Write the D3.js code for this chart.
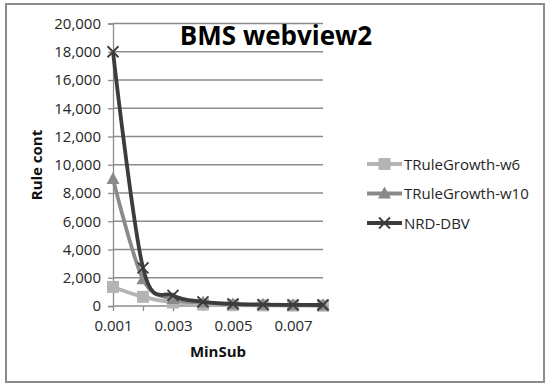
<!DOCTYPE html>
<html>
<head>
<meta charset="utf-8">
<script src="https://cdn.jsdelivr.net/npm/d3@7"></script>
<style>
  body { margin: 0; background: #fff; }
  text { font-family: "Open Sans", "DejaVu Sans", sans-serif; }
</style>
</head>
<body>
<svg id="chart" width="550" height="386"></svg>
<script>
// data
const categories = ['0.001', '0.002', '0.003', '0.004', '0.005', '0.006', '0.007', '0.008'];
const tickLabels = ['0.001', '0.003', '0.005', '0.007'];
const yTicks = [0, 2000, 4000, 6000, 8000, 10000, 12000, 14000, 16000, 18000, 20000];
const seriesNames = ['TRuleGrowth-w6', 'TRuleGrowth-w10', 'NRD-DBV'];
const w6 = [1350, 650, 250, 100, 60, 40, 30, 20];
const w10 = [9000, 1900, 500, 250, 120, 80, 60, 50];
const nrd = [18000, 2700, 750, 300, 150, 100, 80, 70];

const series = [
  { name: seriesNames[0], values: w6, color: '#b4b4b4', marker: 'square' },
  { name: seriesNames[1], values: w10, color: '#8a8a8a', marker: 'triangle' },
  { name: seriesNames[2], values: nrd, color: '#3c3c3c', marker: 'cross' }
];

const svg = d3.select('#chart');

// outer frame
svg.append('rect')
  .attr('x', 6).attr('y', 4).attr('width', 538).attr('height', 378)
  .attr('fill', '#fff').attr('stroke', '#8c8c8c').attr('stroke-width', 2);

const x = d3.scalePoint().domain(categories).range([113, 323]);
const y = d3.scaleLinear().domain([0, 20000]).range([306, 23.5]);

// gridlines
svg.append('g')
  .selectAll('line')
  .data(yTicks.filter(d => d > 0))
  .enter().append('line')
  .attr('x1', 113).attr('x2', 323)
  .attr('y1', d => y(d)).attr('y2', d => y(d))
  .attr('stroke', '#8c8c8c').attr('stroke-width', 1.3);

// y axis
const yAxis = svg.append('g')
  .attr('transform', 'translate(113,0)')
  .call(d3.axisLeft(y).tickValues(yTicks).tickSize(5).tickPadding(7).tickFormat(d3.format(',')));
yAxis.select('.domain').attr('stroke', '#8c8c8c').attr('stroke-width', 1.3);
yAxis.selectAll('.tick line').attr('stroke', '#8c8c8c').attr('stroke-width', 1.3);
yAxis.selectAll('.tick text').attr('font-size', 15).attr('fill', '#262626')
  .style('font-family', '"Open Sans", sans-serif');

// x axis
const xAxis = svg.append('g')
  .attr('transform', 'translate(0,306)')
  .call(d3.axisBottom(x).tickSize(5).tickPadding(9).tickFormat(d => tickLabels.includes(d) ? d : ''));
xAxis.select('.domain').attr('d', 'M113,0H323').attr('stroke', '#8c8c8c').attr('stroke-width', 1.3);
xAxis.selectAll('.tick line').attr('stroke', '#8c8c8c').attr('stroke-width', 1.3);
xAxis.selectAll('.tick text').attr('font-size', 15).attr('fill', '#262626')
  .style('font-family', '"Open Sans", sans-serif');

// axis titles
svg.append('text')
  .attr('x', 218).attr('y', 357)
  .attr('text-anchor', 'middle')
  .attr('font-size', 15).attr('font-weight', 'bold').attr('fill', '#111')
  .text('MinSub');

svg.append('text')
  .attr('transform', 'translate(42,165) rotate(-90)')
  .attr('text-anchor', 'middle')
  .attr('font-size', 15).attr('font-weight', 'bold').attr('fill', '#111')
  .text('Rule cont');

// title
svg.append('text')
  .attr('x', 276).attr('y', 45)
  .attr('text-anchor', 'middle')
  .attr('font-size', 26).attr('font-weight', 'bold').attr('fill', '#000')
  .text('BMS webview2');

function drawMarker(g, type, color) {
  if (type === 'square') {
    g.append('rect').attr('x', -6).attr('y', -6).attr('width', 12).attr('height', 12)
      .attr('fill', color);
  } else if (type === 'triangle') {
    g.append('path').attr('d', 'M0,-7L6.5,5L-6.5,5Z').attr('fill', color);
  } else {
    g.append('path').attr('d', 'M-5.5,-5.5L5.5,5.5M-5.5,5.5L5.5,-5.5')
      .attr('stroke', color).attr('stroke-width', 1.8).attr('fill', 'none');
  }
}

const line = d3.line()
  .x((d, i) => x(categories[i]))
  .y(d => y(d))
  .curve(d3.curveCatmullRom.alpha(0));

series.forEach(s => {
  svg.append('path')
    .datum(s.values)
    .attr('d', line)
    .attr('fill', 'none')
    .attr('stroke', s.color)
    .attr('stroke-width', 3.8);
  s.values.forEach((v, i) => {
    const g = svg.append('g').attr('transform', `translate(${x(categories[i])},${y(v)})`);
    drawMarker(g, s.marker, s.color);
  });
});

// legend
const legend = svg.append('g');
series.forEach((s, i) => {
  const ly = 164 + i * 29.5;
  legend.append('line')
    .attr('x1', 367).attr('x2', 402).attr('y1', ly).attr('y2', ly)
    .attr('stroke', s.color).attr('stroke-width', 3.8);
  const g = legend.append('g').attr('transform', `translate(384.5,${ly})`);
  drawMarker(g, s.marker, s.color);
  legend.append('text')
    .attr('x', 404).attr('y', ly + 5.5)
    .attr('font-size', 15).attr('fill', '#262626')
    .text(s.name);
});
</script>
</body>
</html>
